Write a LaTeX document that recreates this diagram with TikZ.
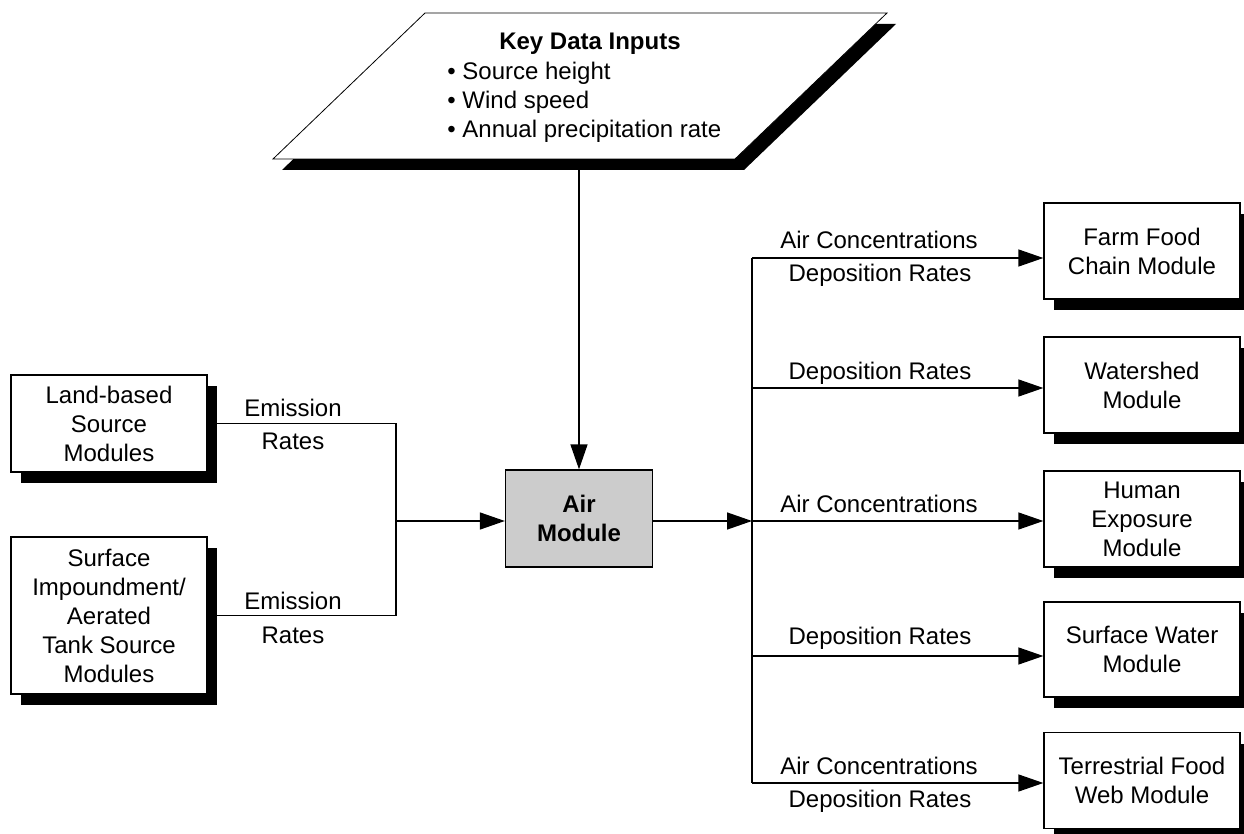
\documentclass[tikz,border=0pt]{standalone}
\usepackage{fontspec}
\setmainfont{Liberation Sans}
\usetikzlibrary{shadows,arrows.meta}
\definecolor{airgray}{RGB}{204,204,204}
\begin{document}
\begin{tikzpicture}[x=0.5pt,y=-0.5pt,
  txt/.style={font=\fontsize{12}{14.5}\selectfont},
  bftxt/.style={font=\fontsize{12}{14.5}\selectfont\bfseries},
  mod/.style={txt, draw, line width=0.65pt, fill=white, align=center, inner sep=0pt,
    minimum width=98pt,
    drop shadow={shadow xshift=5pt, shadow yshift=-5.5pt, opacity=1, fill=black}},
  airbox/.style={bftxt, draw, line width=0.65pt, fill=airgray, align=center, inner sep=0pt,
    minimum width=73.5pt, minimum height=48.5pt},
  lbl/.style={txt, anchor=base, inner sep=0pt},
  conn/.style={line width=0.7pt},
  arr/.style={conn, -{Triangle[length=12.5pt,width=8.5pt]}}
]
\useasboundingbox (0,0) rectangle (1244,834);

% Key data inputs parallelogram
\coordinate (p1) at (273,159);
\coordinate (p2) at (735,159);
\coordinate (p3) at (887,13);
\coordinate (p4) at (425,13);
\fill[black] ([shift={(9,11)}]p1) -- ([shift={(9,11)}]p2) -- ([shift={(9,11)}]p3) -- ([shift={(9,11)}]p4) -- cycle;
\draw[fill=white, line width=0.4pt] (p1) -- (p2) -- (p3) -- (p4) -- cycle;
\node[bftxt, anchor=base, inner sep=0pt] (kdt) at (590,50) {Key Data Inputs};
\node[txt, anchor=base west, inner sep=0pt] (kd1) at (447,80) {• Source height};
\node[txt, anchor=base west, inner sep=0pt] (kd2) at (447,109) {• Wind speed};
\node[txt, anchor=base west, inner sep=0pt] (kd3) at (447,138) {• Annual precipitation rate};
\coordinate (kdbot) at (579,170);

% Left source modules
\node[mod, minimum height=48.5pt] (land) at (109,423.5) {Land-based\\Source\\Modules};
\node[mod, minimum height=78.5pt] (surf) at (109,615.5) {Surface\\Impoundment/\\Aerated\\Tank Source\\Modules};

% Air module
\node[airbox] (air) at (579,518.5) {Air\\Module};

% Right receiving modules
\node[mod, minimum height=48pt] (farm) at (1142,251) {Farm Food\\Chain Module};
\node[mod, minimum height=48pt] (wshed) at (1142,385) {Watershed\\Module};
\node[mod, minimum height=48pt] (human) at (1142,519) {Human\\Exposure\\Module};
\node[mod, minimum height=47.5pt] (swater) at (1142,649.5) {Surface Water\\Module};
\node[mod, minimum height=48pt] (terr) at (1142,780.5) {Terrestrial Food\\Web Module};

% Input arrow
\draw[arr] (kdbot) -- (air.north);

% Left connectors
\coordinate (lbx) at (396,0);
\coordinate (lm) at (396,521);
\draw[conn] (land.east) -- (land.east -| lbx) -- (surf.east -| lbx) -- (surf.east);
\draw[arr] (lm) -- (lm -| air.west);
\node[lbl] (e1) at (293,417) {Emission};
\node[lbl] (r1) at (293,450) {Rates};
\node[lbl] (e2) at (293,610) {Emission};
\node[lbl] (r2) at (293,643) {Rates};

% Right connectors
\coordinate (rm) at (752,521);
\coordinate (b1) at (752,258);
\coordinate (b2) at (752,388);
\coordinate (b3) at (752,521);
\coordinate (b4) at (752,656);
\coordinate (b5) at (752,783);
\draw[arr] (rm -| air.east) -- (rm);
\draw[conn] (b1) -- (b5);
\draw[arr] (b1) -- (b1 -| farm.west);
\draw[arr] (b2) -- (b2 -| wshed.west);
\draw[arr] (b3) -- (b3 -| human.west);
\draw[arr] (b4) -- (b4 -| swater.west);
\draw[arr] (b5) -- (b5 -| terr.west);

\node[lbl] (l1a) at (879,249) {Air Concentrations};
\node[lbl] (l1b) at (880,282) {Deposition Rates};
\node[lbl] (l2) at (880,380) {Deposition Rates};
\node[lbl] (l3) at (879,513) {Air Concentrations};
\node[lbl] (l4) at (880,644) {Deposition Rates};
\node[lbl] (l5a) at (879,774) {Air Concentrations};
\node[lbl] (l5b) at (880,807) {Deposition Rates};
\end{tikzpicture}
\end{document}
